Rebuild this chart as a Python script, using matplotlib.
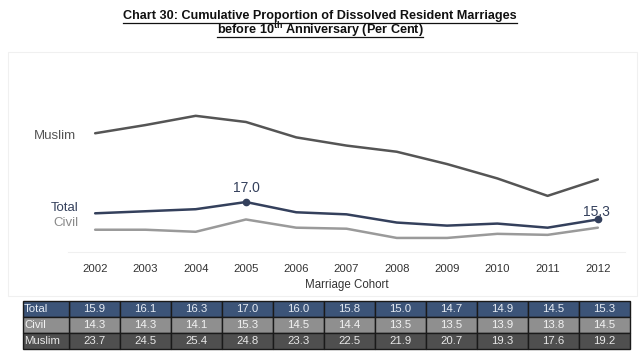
import matplotlib
matplotlib.use("Agg")
import matplotlib.pyplot as plt
from matplotlib.patches import Rectangle
from matplotlib.lines import Line2D

plt.rcParams['font.family'] = ['Liberation Sans', 'DejaVu Sans']
plt.rcParams['mathtext.fontset'] = 'custom'
plt.rcParams['mathtext.rm'] = 'Liberation Sans:bold'
plt.rcParams['mathtext.bf'] = 'Liberation Sans:bold'
plt.rcParams['mathtext.it'] = 'Liberation Sans:bold'

years = [2002, 2003, 2004, 2005, 2006, 2007, 2008, 2009, 2010, 2011, 2012]
total = [15.9, 16.1, 16.3, 17.0, 16.0, 15.8, 15.0, 14.7, 14.9, 14.5, 15.3]
civil = [14.3, 14.3, 14.1, 15.3, 14.5, 14.4, 13.5, 13.5, 13.9, 13.8, 14.5]
muslim = [23.7, 24.5, 25.4, 24.8, 23.3, 22.5, 21.9, 20.7, 19.3, 17.6, 19.2]
series_names = ['Total', 'Civil', 'Muslim']

c_muslim = '#555555'
c_total = '#34405c'
c_civil = '#9a9a9a'

W, H = 640, 359
fig = plt.figure(figsize=(6.4, 3.59), dpi=100)

def fx(px):
    return px / W
def fy(py):
    return 1 - py / H

# faint frame
fig.patches.append(Rectangle((fx(8), fy(296)), fx(629), (296 - 52) / H,
                             transform=fig.transFigure, fill=False,
                             edgecolor='#f0f0f0', linewidth=0.8))

ax = fig.add_axes([fx(68), fy(252), fx(625 - 68), (252 - 60) / H])
ax.plot(years, muslim, color=c_muslim, lw=1.8, solid_capstyle='round')
ax.plot(years, civil, color=c_civil, lw=1.8, solid_capstyle='round')
ax.plot(years, total, color=c_total, lw=1.8, solid_capstyle='round')
i05 = years.index(2005)
ax.plot([years[i05], years[-1]], [total[i05], total[-1]], 'o', color=c_total, ms=4.5)

ax.set_xlim(2001.46, 2012.54)
ax.set_ylim(12.13, 30.84)
for s in ['top', 'right', 'left']:
    ax.spines[s].set_visible(False)
ax.spines['bottom'].set_color('#f0f0f0')
ax.set_yticks([])
ax.set_xticks(years)
ax.set_xticklabels([str(y) for y in years])
ax.tick_params(axis='x', length=0, pad=9, labelsize=8.2, labelcolor='#333333')
ax.set_xlabel('Marriage Cohort', fontsize=8.3, color='#333333', labelpad=3)

# series labels
ax.annotate('Muslim', xy=(years[0], muslim[0]), xytext=(-14, -2), textcoords='offset points',
            ha='right', va='center', fontsize=9.5, color=c_muslim)
ax.annotate('Total', xy=(years[0], total[0]), xytext=(-12, 4), textcoords='offset points',
            ha='right', va='center', fontsize=9.5, color=c_total)
ax.annotate('Civil', xy=(years[0], civil[0]), xytext=(-12, 5), textcoords='offset points',
            ha='right', va='center', fontsize=9.5, color='#8a8a8a')

# value labels
ax.annotate(f'{total[i05]:.1f}', xy=(years[i05], total[i05]), xytext=(0, 10),
            textcoords='offset points', ha='center', va='center', fontsize=10, color=c_total)
ax.annotate(f'{total[-1]:.1f}', xy=(years[-1], total[-1]), xytext=(-1, 5.5),
            textcoords='offset points', ha='center', va='center', fontsize=10, color=c_total)

# title
t1 = fig.text(0.5, fy(16), 'Chart 30: Cumulative Proportion of Dissolved Resident Marriages',
              ha='center', va='center', fontsize=9.1, fontweight='bold', color='#111111')
t2 = fig.text(0.5, fy(30), r'before 10$^{\mathrm{th}}$ Anniversary (Per Cent)',
              ha='center', va='center', fontsize=9.1, fontweight='bold', color='#111111')
fig.canvas.draw()
r = fig.canvas.get_renderer()
for t, ypx in [(t1, 22.5), (t2, 36.5)]:
    bb = t.get_window_extent(renderer=r)
    x0, x1 = bb.x0 / W, bb.x1 / W
    fig.lines.append(Line2D([x0, x1], [fy(ypx), fy(ypx)], transform=fig.transFigure,
                            color='#111111', lw=0.9))

# table
tx0, tx1, ty0, ty1 = 23, 630, 301, 349
tax = fig.add_axes([fx(tx0), fy(ty1), (tx1 - tx0) / W, (ty1 - ty0) / H])
tax.axis('off')
rows = [total, civil, muslim]
cell_text = [[f'{v:.1f}' for v in row] for row in rows]
bgs = ['#3c5478', '#8f8f8f', '#4f4f4f']
fgs = ['#e6ecf5', '#f2f2f2', '#e8e8e8']
lw_ = 46 / (tx1 - tx0)
dw = 51 / (tx1 - tx0)
tbl = tax.table(cellText=cell_text, rowLabels=None, bbox=[lw_, 0, 1 - lw_, 1],
                cellLoc='center', colWidths=[dw] * len(years))
lbl = tax.table(cellText=[[n] for n in series_names], bbox=[0, 0, lw_, 1], cellLoc='left',
                colWidths=[lw_])
for tb in (tbl, lbl):
    tb.auto_set_font_size(False)
    for (ri, ci), cell in tb.get_celld().items():
        cell.set_facecolor(bgs[ri])
        cell.set_edgecolor('#1a1a1a')
        cell.set_linewidth(1.0)
        cell.get_text().set_color(fgs[ri])
        cell.get_text().set_fontsize(8.2)
        cell.PAD = 0.03
for (ri, ci), cell in lbl.get_celld().items():
    cell.PAD = 0.02

fig.savefig('out.png', dpi=100, facecolor='white')
